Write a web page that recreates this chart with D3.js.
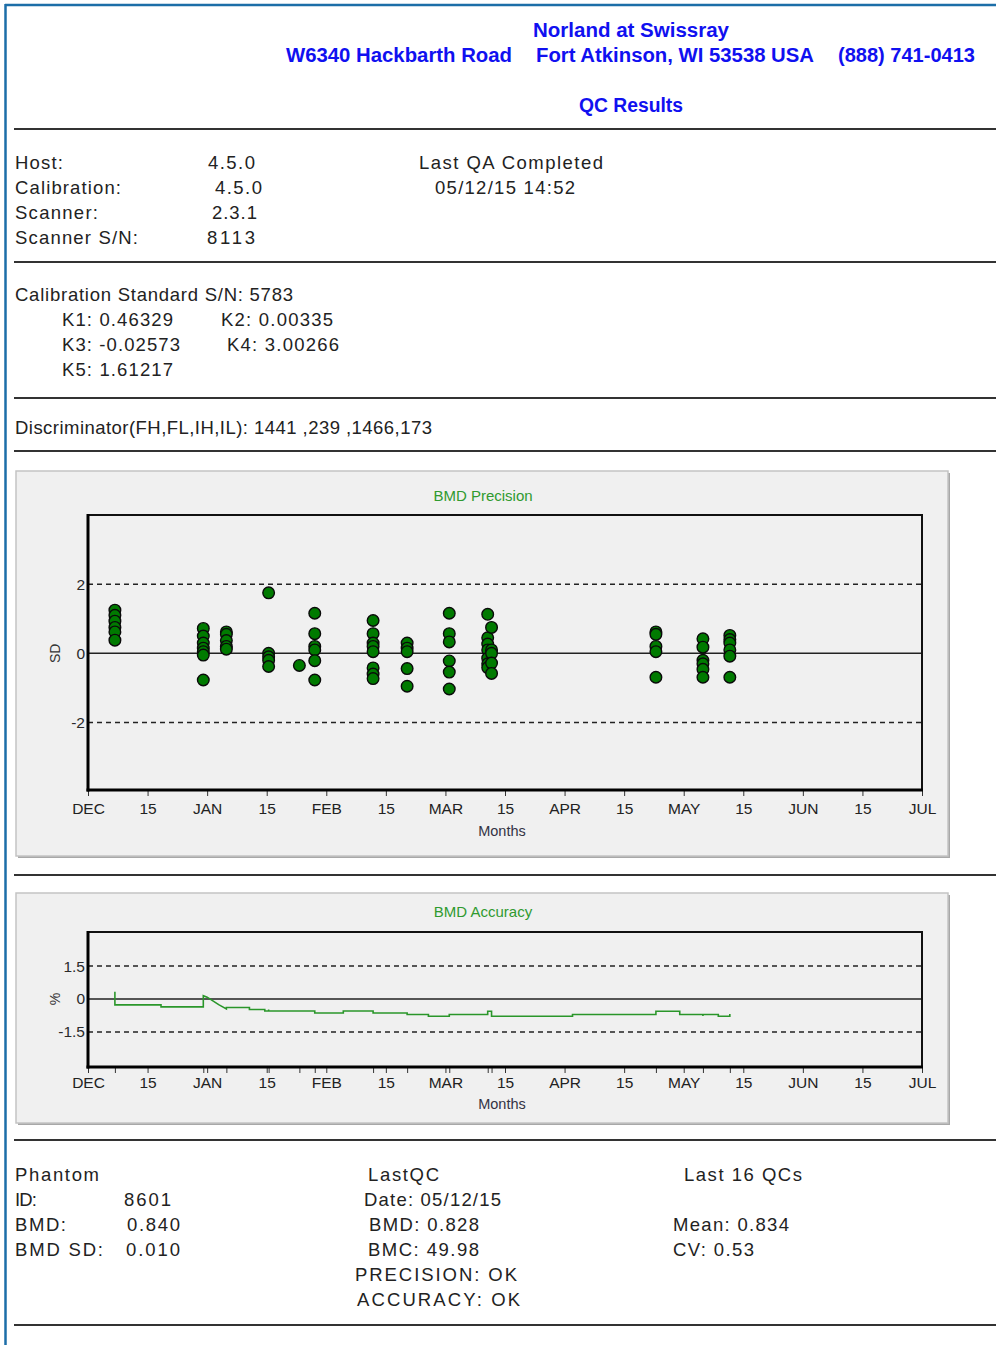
<!DOCTYPE html>
<html><head><meta charset="utf-8">
<script src="https://cdn.jsdelivr.net/npm/d3@7"></script>
<style>body{margin:0;background:#fff}svg{display:block}</style>
</head><body><svg id="c" width="996" height="1345"></svg>
<script>
// ---------- data ----------
const tickLabels = ["DEC","15","JAN","15","FEB","15","MAR","15","APR","15","MAY","15","JUN","15","JUL"];
const qcDates = ["2014-12-08","2014-12-31","2015-01-06","2015-01-17","2015-01-25","2015-01-29",
  "2015-02-12","2015-02-20","2015-03-02","2015-03-12","2015-03-13","2015-04-24","2015-05-06","2015-05-13"];
const precisionValues = [
  [1.25,1.1,0.93,0.75,0.62,0.38],
  [0.72,0.5,0.3,0.15,0.05,-0.05,-0.77],
  [0.62,0.55,0.37,0.2,0.12],
  [1.75,0.0,-0.1,-0.2,-0.38],
  [-0.35],
  [1.16,0.57,0.2,0.1,-0.21,-0.77],
  [0.95,0.57,0.3,0.2,0.05,-0.42,-0.6,-0.73],
  [0.3,0.15,0.05,-0.44,-0.95],
  [1.16,0.57,0.33,-0.22,-0.54,-1.03],
  [1.13,0.45,0.27,0.1,-0.14,-0.3,-0.41],
  [0.75,0.1,0.0,-0.28,-0.58],
  [0.62,0.55,0.2,0.05,-0.69],
  [0.42,0.18,-0.2,-0.3,-0.46,-0.69],
  [0.52,0.4,0.3,0.1,-0.08,-0.69]
];
const precisionYTicks = [2,0,-2];
const accDates = ["2014-12-08","2014-12-08","2014-12-20","2014-12-20","2014-12-31","2014-12-31",
  "2015-01-01","2015-01-04","2015-01-06","2015-01-06","2015-01-12","2015-01-12","2015-01-16","2015-01-16",
  "2015-01-17","2015-01-17","2015-01-17","2015-01-29","2015-01-29","2015-02-05","2015-02-05",
  "2015-02-12","2015-02-12","2015-02-20","2015-02-20","2015-02-25","2015-02-25","2015-03-02","2015-03-02",
  "2015-03-12","2015-03-12","2015-03-13","2015-03-13","2015-04-03","2015-04-03","2015-04-24","2015-04-24",
  "2015-04-30","2015-04-30","2015-05-06","2015-05-06","2015-05-06","2015-05-10","2015-05-10","2015-05-13","2015-05-13"];
const accValues = [0.33,-0.27,-0.27,-0.36,-0.36,0.15,
  0.08,-0.26,-0.45,-0.39,-0.39,-0.48,-0.48,-0.55,
  -0.55,-0.48,-0.55,-0.55,-0.64,-0.64,-0.55,
  -0.55,-0.64,-0.64,-0.71,-0.71,-0.79,-0.79,-0.71,
  -0.71,-0.56,-0.56,-0.79,-0.79,-0.71,-0.71,-0.56,
  -0.56,-0.71,-0.71,-0.78,-0.71,-0.71,-0.79,-0.79,-0.68];
const accuracyYTicks = [1.5,0,-1.5];

// ---------- helpers ----------
function monthPos(s){
  const [y,m,d] = s.split("-").map(Number);
  const idx = (y-2014)*12 + (m-12);
  const dim = new Date(y, m, 0).getDate();
  return idx + (d-1)/dim;
}
const FONT = "'Liberation Sans', Arial, sans-serif";
const svg = d3.select("#c");
svg.append("rect").attr("width",996).attr("height",1345).attr("fill","#fff");

// page frame
svg.append("line").attr("x1",5).attr("x2",996).attr("y1",5).attr("y2",5).attr("stroke","#1c6ea8").attr("stroke-width",2.5);
svg.append("line").attr("x1",5.5).attr("x2",5.5).attr("y1",4).attr("y2",1345).attr("stroke","#1c6ea8").attr("stroke-width",2.5);

// rules
[129,262,398,451,875,1140,1325].forEach(y=>{
  svg.append("line").attr("x1",14).attr("x2",996).attr("y1",y).attr("y2",y).attr("stroke","#333").attr("stroke-width",2);
});

function txt(t,x,y,w,opt={}){
  const e = svg.append("text").attr("x",x).attr("y",y).text(t)
    .attr("font-family",opt.family||"'Liberation Sans Narrow','Liberation Sans', Arial, sans-serif")
    .attr("font-size",opt.size||18.5).attr("fill",opt.fill||"#222");
  if(opt.weight) e.attr("font-weight",opt.weight);
  if(w) e.attr("textLength",w).attr("lengthAdjust",opt.adjust||"spacing");
  return e;
}
// header
const hopt = {family:"'Liberation Sans Narrow','Arial Narrow','Liberation Sans',sans-serif",size:20,weight:"bold",fill:"#1010f0",adjust:"spacingAndGlyphs"};
txt("Norland at Swissray",533,37,196,hopt);
txt("W6340 Hackbarth Road",286,62,226,hopt);
txt("Fort Atkinson, WI 53538 USA",536,62,278,hopt);
txt("(888) 741-0413",838,62,137,hopt);
txt("QC Results",579,112,104,hopt);

// info
txt("Host:",15,169,48); txt("4.5.0",208,169,47);
txt("Calibration:",15,194,106); txt("4.5.0",215,194,47);
txt("Scanner:",15,219,83); txt("2.3.1",212,219,45);
txt("Scanner S/N:",15,244,123); txt("8113",207,244,48);
txt("Last QA Completed",419,169,184); txt("05/12/15 14:52",435,194,140);
txt("Calibration Standard S/N: 5783",15,301,278);
txt("K1: 0.46329",62,326,111); txt("K2: 0.00335",221,326,112);
txt("K3: -0.02573",62,351,118); txt("K4: 3.00266",227,351,112);
txt("K5: 1.61217",62,376,111);
txt("Discriminator(FH,FL,IH,IL): 1441 ,239 ,1466,173",15,434,417);

// bottom
txt("Phantom",15,1181,84);
txt("ID:",15,1206,22); txt("8601",124,1206,47);
txt("BMD:",15,1231,51); txt("0.840",127,1231,53);
txt("BMD SD:",15,1256,88); txt("0.010",126,1256,54);
txt("LastQC",368,1181,71);
txt("Date: 05/12/15",364,1206,137);
txt("BMD: 0.828",369,1231,110);
txt("BMC: 49.98",368,1256,111);
txt("PRECISION: OK",355,1281,162);
txt("ACCURACY: OK",357,1306,163);
txt("Last 16 QCs",684,1181,118);
txt("Mean: 0.834",673,1231,116);
txt("CV: 0.53",673,1256,81);

// ---------- chart builder ----------
function panel(y0,y1,title,titleY){
  svg.append("rect").attr("x",18).attr("y",y0+2).attr("width",932).attr("height",y1-y0).attr("fill","#a8a8a8");
  svg.append("rect").attr("x",16).attr("y",y0).attr("width",932).attr("height",y1-y0)
    .attr("fill","#f0f0f0").attr("stroke","#c4c4c4").attr("stroke-width",1.5);
  svg.append("text").attr("x",483).attr("y",titleY).attr("text-anchor","middle")
    .attr("font-family",FONT).attr("font-size",15).attr("fill","#2f9a2f").text(title);
}
function frame(x,y,top,bottom,yTicks,yTitle,minorDates,pad){
  const g = svg.append("g");
  yTicks.forEach(v=>{
    g.append("line").attr("x1",x.range()[0]).attr("x2",x.range()[1]).attr("y1",y(v)).attr("y2",y(v))
      .attr("stroke","#222").attr("stroke-width",1.5)
      .attr("stroke-dasharray", v===0?null:"5,4");
  });
  yTicks.forEach(v=>{
    g.append("text").attr("x",85).attr("y",y(v)+5.5).attr("text-anchor","end")
      .attr("font-family",FONT).attr("font-size",15.5).attr("fill","#2a2a2a").text(String(v));
  });
  g.append("text").attr("transform",`translate(60,${y(0)}) rotate(-90)`).attr("text-anchor","middle")
    .attr("font-family",FONT).attr("font-size",14).attr("fill","#333").text(yTitle);
  const ax = d3.axisBottom(x).tickValues(d3.range(0,7.01,0.5)).tickSize(6).tickPadding(pad)
    .tickFormat((d,i)=>tickLabels[i]);
  const axg = g.append("g").attr("transform",`translate(0,${bottom})`).call(ax);
  axg.select(".domain").remove();
  axg.selectAll(".tick line").attr("stroke","#333").attr("stroke-width",1);
  axg.selectAll(".tick text").attr("font-family",FONT).attr("font-size",15.5).attr("fill","#222");
  if(minorDates){
    const ax2 = d3.axisBottom(x).tickValues(minorDates.map(monthPos)).tickSize(6).tickFormat("");
    const a2 = g.append("g").attr("transform",`translate(0,${bottom})`).call(ax2);
    a2.select(".domain").remove();
    a2.selectAll(".tick line").attr("stroke","#333");
  }
  const [x0,x1]=x.range();
  g.append("rect").attr("x",x0).attr("y",top).attr("width",x1-x0).attr("height",bottom-top)
    .attr("fill","none").attr("stroke","#111").attr("stroke-width",2);
  g.append("line").attr("x1",x0).attr("x2",x0).attr("y1",top-1).attr("y2",bottom+1.5).attr("stroke","#000").attr("stroke-width",3);
  g.append("line").attr("x1",x0-1.5).attr("x2",x1+1).attr("y1",bottom).attr("y2",bottom).attr("stroke","#000").attr("stroke-width",3);
  return g;
}

// ---------- precision ----------
panel(471,856,"BMD Precision",501);
const xP = d3.scaleLinear().domain([0,7]).range([88,922]);
const yP = d3.scaleLinear().domain([-3.95,4]).range([790,515]);
frame(xP,yP,515,790,precisionYTicks,"SD",null,7);
const pts = [];
qcDates.forEach((d,i)=>precisionValues[i].forEach(v=>pts.push({d,v})));
svg.append("g").selectAll("circle").data(pts).join("circle")
  .attr("cx",p=>xP(monthPos(p.d))).attr("cy",p=>yP(p.v)).attr("r",5.8)
  .attr("fill","#007a00").attr("stroke","#0a0a0a").attr("stroke-width",1.4);
svg.append("text").attr("x",502).attr("y",836).attr("text-anchor","middle")
  .attr("font-family",FONT).attr("font-size",14.5).attr("fill","#333344").text("Months");

// ---------- accuracy ----------
panel(893,1123,"BMD Accuracy",917);
const xA = d3.scaleLinear().domain([0,7]).range([88,922]);
const yA = d3.scaleLinear().domain([-3.1,3.05]).range([1067,932]);
frame(xA,yA,932,1067,accuracyYTicks,"%",qcDates,4);
const line = d3.line().x(d=>xA(monthPos(d[0]))).y(d=>yA(d[1]));
svg.append("path").datum(accDates.map((d,i)=>[d,accValues[i]])).attr("d",line)
  .attr("fill","none").attr("stroke","#2a962a").attr("stroke-width",1.6);
svg.append("text").attr("x",502).attr("y",1109).attr("text-anchor","middle")
  .attr("font-family",FONT).attr("font-size",14.5).attr("fill","#333344").text("Months");
</script></body></html>
